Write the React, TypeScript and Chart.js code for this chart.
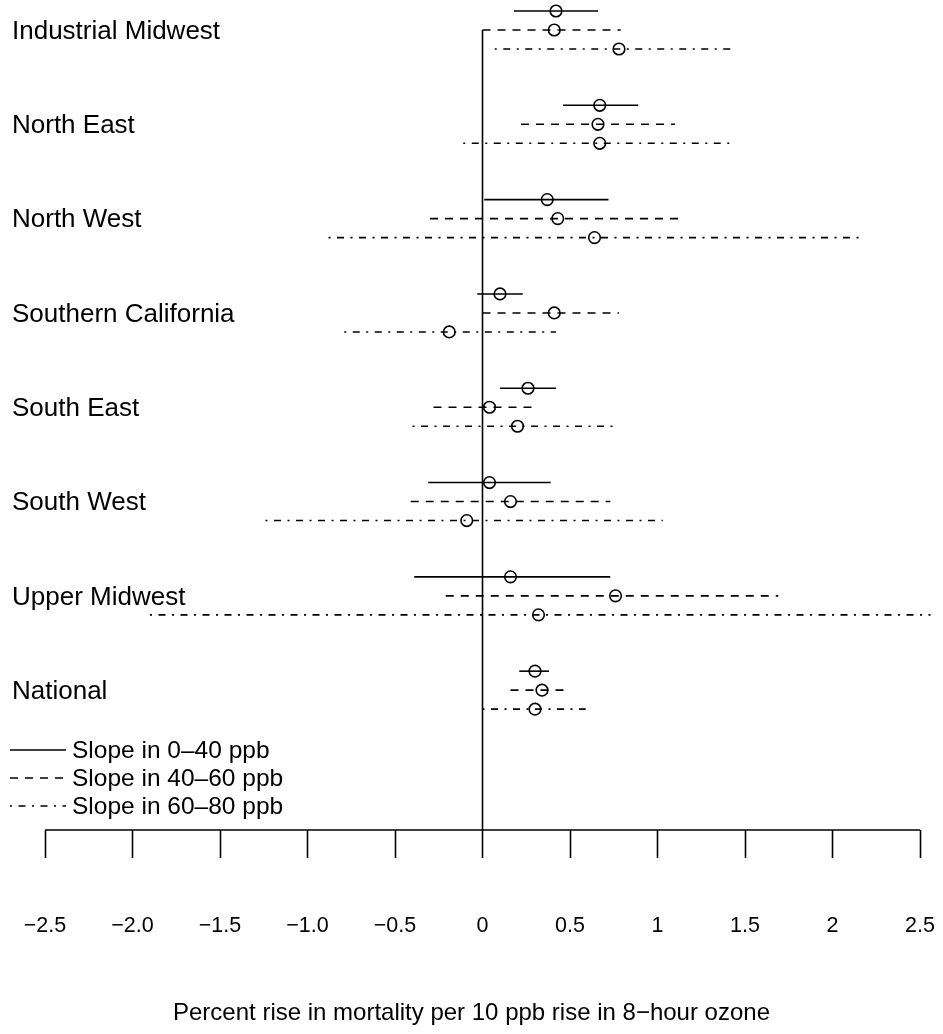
import React, { useEffect, useRef } from "react";
import { Chart, registerables } from "chart.js";

Chart.register(...registerables);

const regions = [
  "Industrial Midwest",
  "North East",
  "North West",
  "Southern California",
  "South East",
  "South West",
  "Upper Midwest",
  "National",
];

const est040 = [0.42, 0.67, 0.37, 0.1, 0.26, 0.04, 0.16, 0.3];
const lo040 = [0.18, 0.46, 0.01, -0.03, 0.1, -0.31, -0.39, 0.21];
const hi040 = [0.66, 0.89, 0.72, 0.23, 0.42, 0.39, 0.73, 0.38];

const est4060 = [0.41, 0.66, 0.43, 0.41, 0.04, 0.16, 0.76, 0.34];
const lo4060 = [0.0, 0.22, -0.3, 0.0, -0.28, -0.41, -0.21, 0.16];
const hi4060 = [0.79, 1.1, 1.15, 0.78, 0.31, 0.73, 1.69, 0.48];

const est6080 = [0.78, 0.67, 0.64, -0.19, 0.2, -0.09, 0.32, 0.3];
const lo6080 = [0.07, -0.11, -0.88, -0.79, -0.4, -1.24, -1.9, 0.0];
const hi6080 = [1.44, 1.44, 2.16, 0.42, 0.76, 1.03, 2.56, 0.59];

const seriesLabels = ["Slope in 0\u201340 ppb", "Slope in 40\u201360 ppb", "Slope in 60\u201380 ppb"];

const tickValues = [-2.5, -2.0, -1.5, -1.0, -0.5, 0, 0.5, 1, 1.5, 2, 2.5];
const tickLabels = ["\u22122.5", "\u22122.0", "\u22121.5", "\u22121.0", "\u22120.5", "0", "0.5", "1", "1.5", "2", "2.5"];

const axisTitle = "Percent rise in mortality per 10 ppb rise in 8\u2212hour ozone";

// layout constants
const W = 943;
const H = 1034;
const GROUP = 4.963;
const Y_MIN = -0.579;
const Y_MAX = 43.1;
const X_MIN = -2.5 - 45 / 175;
const X_MAX = 2.5 + 23 / 175;
const FONT = "'Liberation Sans', Arial, Helvetica, sans-serif";
const DASHES = [[], [8, 7], [2, 6.5, 7, 6.5]];
const LW = 1.6;

const series = [
  { est: est040, lo: lo040, hi: hi040 },
  { est: est4060, lo: lo4060, hi: hi4060 },
  { est: est6080, lo: lo6080, hi: hi6080 },
];

const rowY = (i: number, j: number) => i * GROUP + j;

const overlayPlugin = {
  id: "overlay",
  afterDraw(chart: any) {
    const { ctx, chartArea } = chart;
    const xs = chart.scales.x;
    const ys = chart.scales.y;
    ctx.save();
    // axis line
    ctx.strokeStyle = "#000";
    ctx.lineWidth = LW;
    ctx.setLineDash([]);
    ctx.beginPath();
    ctx.moveTo(xs.getPixelForValue(tickValues[0]), chartArea.bottom);
    ctx.lineTo(xs.getPixelForValue(tickValues[tickValues.length - 1]), chartArea.bottom);
    ctx.stroke();
    // region labels
    ctx.fillStyle = "#000";
    ctx.font = `26px ${FONT}`;
    ctx.textAlign = "left";
    ctx.textBaseline = "middle";
    regions.forEach((r, i) => {
      ctx.fillText(r, 12, ys.getPixelForValue(rowY(i, 1)) + 1.5);
    });
    // legend
    const legY = [750, 778, 806];
    ctx.font = `24.5px ${FONT}`;
    seriesLabels.forEach((lab, k) => {
      ctx.setLineDash(DASHES[k]);
      ctx.lineWidth = LW;
      ctx.beginPath();
      ctx.moveTo(10, legY[k]);
      ctx.lineTo(66, legY[k]);
      ctx.stroke();
      ctx.setLineDash([]);
      ctx.fillText(lab, 72, legY[k] + 1);
    });
    ctx.restore();
  },
};

export default function App() {
  const ref = useRef<HTMLCanvasElement | null>(null);
  useEffect(() => {
    if (!ref.current) return;
    const datasets: any[] = [];
    // zero reference line
    datasets.push({
      type: "line",
      data: [
        { x: 0, y: rowY(0, 1) },
        { x: 0, y: Y_MAX },
      ],
      borderColor: "#000",
      borderWidth: LW,
      pointRadius: 0,
      clip: false,
    });
    series.forEach((s, k) => {
      regions.forEach((_, i) => {
        datasets.push({
          type: "line",
          data: [
            { x: s.lo[i], y: rowY(i, k) },
            { x: s.hi[i], y: rowY(i, k) },
          ],
          borderColor: "#000",
          borderWidth: LW,
          borderDash: DASHES[k],
          borderCapStyle: "butt",
          pointRadius: 0,
          clip: false,
        });
      });
    });
    series.forEach((s, k) => {
      datasets.push({
        type: "scatter",
        data: s.est.map((v, i) => ({ x: v, y: rowY(i, k) })),
        pointStyle: "circle",
        pointRadius: 5.8,
        pointBorderWidth: LW,
        borderColor: "#000",
        backgroundColor: "rgba(0,0,0,0)",
        pointBackgroundColor: "rgba(0,0,0,0)",
        pointBorderColor: "#000",
        showLine: false,
        clip: false,
      });
    });
    const chart = new Chart(ref.current, {
      type: "scatter",
      data: { datasets },
      options: {
        responsive: false,
        animation: false,
        layout: { padding: 0, autoPadding: false },
        plugins: { legend: { display: false }, tooltip: { enabled: false } },
        scales: {
          x: {
            type: "linear",
            position: "bottom",
            min: X_MIN,
            max: X_MAX,
            afterBuildTicks: (scale: any) => {
              scale.ticks = tickValues.map((v) => ({ value: v }));
            },
            afterFit: (scale: any) => {
              scale.height = H - 830;
              scale.paddingLeft = 0;
              scale.paddingRight = 0;
            },
            border: { display: false },
            grid: {
              drawOnChartArea: false,
              drawTicks: true,
              tickLength: 28,
              color: "#000",
              tickWidth: LW,
            },
            ticks: {
              autoSkip: false,
              maxRotation: 0,
              padding: 55,
              color: "#000",
              font: { family: FONT, size: 21.5 },
              callback: (value: any) => {
                const idx = tickValues.indexOf(Number(value));
                return idx >= 0 ? tickLabels[idx] : "";
              },
            },
            title: {
              display: true,
              text: axisTitle,
              color: "#000",
              font: { family: FONT, size: 24 },
              padding: { top: 0, bottom: 6 },
            },
          },
          y: {
            type: "linear",
            display: false,
            reverse: true,
            min: Y_MIN,
            max: Y_MAX,
          },
        },
      },
      plugins: [overlayPlugin],
    });
    return () => chart.destroy();
  }, []);
  return (
    <div style={{ position: "absolute", left: 0, top: 0, width: W, height: H, background: "#fff" }}>
      <canvas ref={ref} width={W} height={H} style={{ display: "block" }} />
    </div>
  );
}
